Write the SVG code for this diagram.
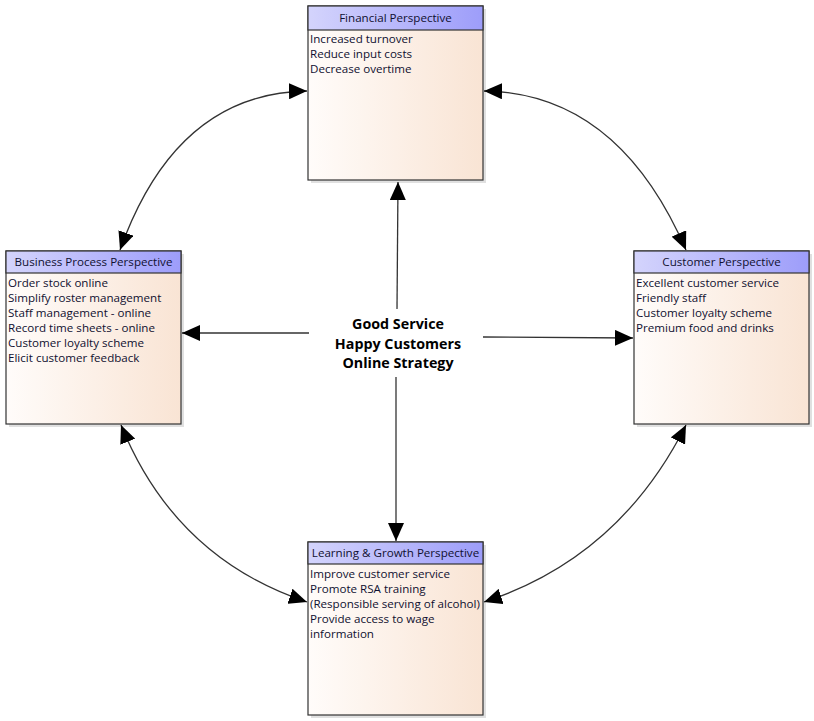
<svg xmlns="http://www.w3.org/2000/svg" width="814" height="721" viewBox="0 0 814 721">
<style>
.body{fill:url(#bodyGrad);stroke:#333;stroke-width:1.2}
.head{fill:url(#headGrad);stroke:#333;stroke-width:1.2}
.shadow{fill:#000;opacity:0.12}
.title{font-family:"Open Sans","Noto Sans",sans-serif;font-size:11.6px;fill:#101030;text-anchor:middle}
.item{font-family:"Open Sans","Noto Sans",sans-serif;font-size:11.6px;fill:#101030}
.center{font-family:"Open Sans","Noto Sans",sans-serif;font-size:14.3px;font-weight:bold;fill:#000;text-anchor:middle}
.conn{fill:none;stroke:#333;stroke-width:1.3}
</style>
<defs>
<linearGradient id="bodyGrad" x1="0" y1="0" x2="1" y2="0">
<stop offset="0" stop-color="#fffcfa"/>
<stop offset="1" stop-color="#f9e4d4"/>
</linearGradient>
<linearGradient id="headGrad" x1="0" y1="0" x2="1" y2="0">
<stop offset="0" stop-color="#d4d4fc"/>
<stop offset="1" stop-color="#9d9dfa"/>
</linearGradient>
<marker id="arr" viewBox="0 0 18 16" refX="18" refY="8" markerWidth="18" markerHeight="16" markerUnits="userSpaceOnUse" orient="auto-start-reverse">
<path d="M0,0 L18,8 L0,16 Z" fill="#000"/>
</marker>
</defs>

<g id="connectors">
<path class="conn" d="M397,309 L398,182" marker-end="url(#arr)"/>
<path class="conn" d="M309,333 L182,333" marker-end="url(#arr)"/>
<path class="conn" d="M483,337 L633,338" marker-end="url(#arr)"/>
<path class="conn" d="M396,377 L396,541" marker-end="url(#arr)"/>
<path class="conn" d="M120,250 Q176,93 307,91" marker-start="url(#arr)" marker-end="url(#arr)"/>
<path class="conn" d="M484,91 Q618,93 686,250" marker-start="url(#arr)" marker-end="url(#arr)"/>
<path class="conn" d="M121,425 Q175,558 307,602" marker-start="url(#arr)" marker-end="url(#arr)"/>
<path class="conn" d="M686,425 Q619,558 484,602" marker-start="url(#arr)" marker-end="url(#arr)"/>
</g>

<g id="financial">
<rect class="shadow" x="311" y="9" width="175" height="174"/>
<rect class="body" x="308" y="6" width="175" height="174"/>
<rect class="head" x="308" y="6" width="175" height="24"/>
<text class="title" x="395.5" y="22">Financial Perspective</text>
<text class="item" x="310" y="43">Increased turnover</text>
<text class="item" x="310" y="58">Reduce input costs</text>
<text class="item" x="310" y="73">Decrease overtime</text>
</g>

<g id="business">
<rect class="shadow" x="9" y="254" width="175" height="173"/>
<rect class="body" x="6" y="251" width="175" height="173"/>
<rect class="head" x="6" y="251" width="175" height="22"/>
<text class="title" x="93.5" y="266">Business Process Perspective</text>
<text class="item" x="8" y="287">Order stock online</text>
<text class="item" x="8" y="302">Simplify roster management</text>
<text class="item" x="8" y="317">Staff management - online</text>
<text class="item" x="8" y="332">Record time sheets - online</text>
<text class="item" x="8" y="347">Customer loyalty scheme</text>
<text class="item" x="8" y="362">Elicit customer feedback</text>
</g>

<g id="customer">
<rect class="shadow" x="637" y="254" width="175" height="173"/>
<rect class="body" x="634" y="251" width="175" height="173"/>
<rect class="head" x="634" y="251" width="175" height="22"/>
<text class="title" x="721.5" y="266">Customer Perspective</text>
<text class="item" x="636" y="287">Excellent customer service</text>
<text class="item" x="636" y="302">Friendly staff</text>
<text class="item" x="636" y="317">Customer loyalty scheme</text>
<text class="item" x="636" y="332">Premium food and drinks</text>
</g>

<g id="learning">
<rect class="shadow" x="311" y="545" width="175" height="173"/>
<rect class="body" x="308" y="542" width="175" height="173"/>
<rect class="head" x="308" y="542" width="175" height="22"/>
<text class="title" x="395.5" y="557">Learning &amp; Growth Perspective</text>
<text class="item" x="310" y="578">Improve customer service</text>
<text class="item" x="310" y="593">Promote RSA training</text>
<text class="item" x="310" y="608">(Responsible serving of alcohol)</text>
<text class="item" x="310" y="623">Provide access to wage</text>
<text class="item" x="310" y="638">information</text>
</g>

<g id="strategy">
<text class="center" x="398" y="329">Good Service</text>
<text class="center" x="398" y="349">Happy Customers</text>
<text class="center" x="398" y="368">Online Strategy</text>
</g>
</svg>
